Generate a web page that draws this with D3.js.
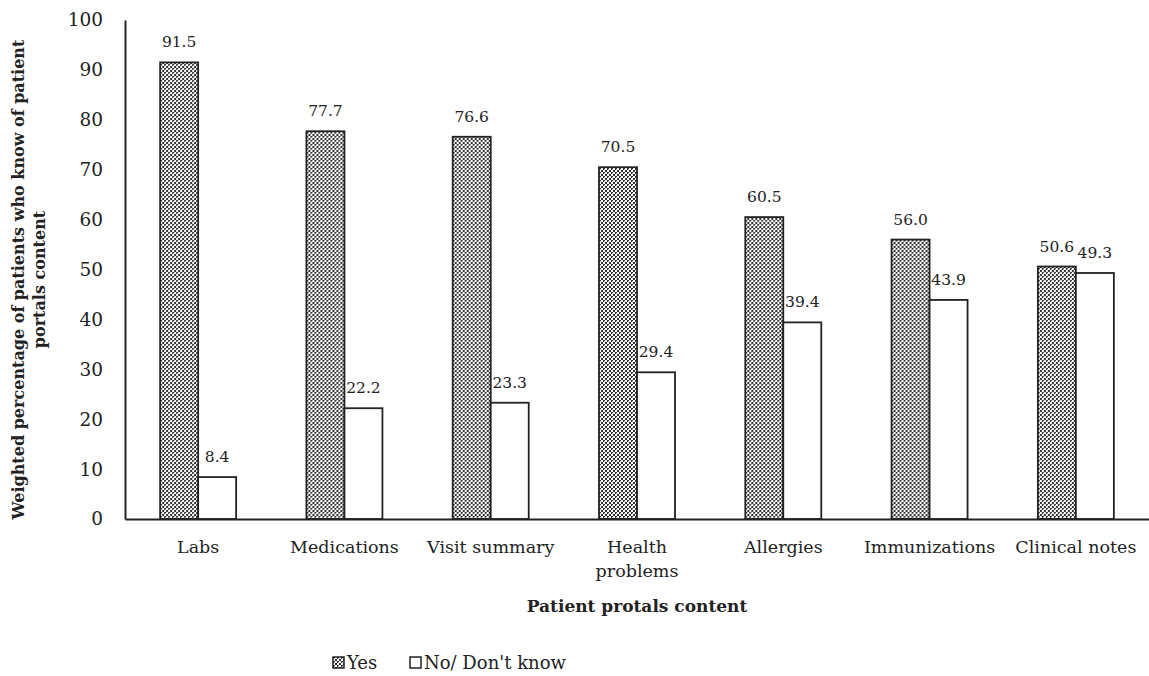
<!DOCTYPE html>
<html>
<head>
<meta charset="utf-8">
<script src="https://cdn.jsdelivr.net/npm/d3@7"></script>
<style>
  body { margin: 0; background: #fff; }
  text { font-family: "DejaVu Serif", serif; fill: #222; }
</style>
</head>
<body>
<div id="chart"></div>
<script>
// Data
const categories = ['Labs', 'Medications', 'Visit summary', 'Health problems', 'Allergies', 'Immunizations', 'Clinical notes'];
const yesValues = [91.5, 77.7, 76.6, 70.5, 60.5, 56.0, 50.6];
const noValues = [8.4, 22.2, 23.3, 29.4, 39.4, 43.9, 49.3];
const seriesNames = ['Yes', "No/ Don't know"];
const yTicks = [0, 10, 20, 30, 40, 50, 60, 70, 80, 90, 100];

const width = 1149;
const height = 676;
const margin = { top: 20, right: 0, bottom: 157, left: 125 };

const svg = d3.select('#chart')
  .append('svg')
  .attr('width', width)
  .attr('height', height);

// dotted fill like the excel pattern
const defs = svg.append('defs');
const pat = defs.append('pattern')
  .attr('id', 'dots')
  .attr('patternUnits', 'userSpaceOnUse')
  .attr('width', 4)
  .attr('height', 4);
pat.append('rect').attr('width', 4).attr('height', 4).attr('fill', '#fff');
pat.append('rect').attr('x', 0).attr('y', 0).attr('width', 2).attr('height', 2).attr('fill', '#333');
pat.append('rect').attr('x', 2).attr('y', 2).attr('width', 2).attr('height', 2).attr('fill', '#333');
pat.append('rect').attr('x', 1).attr('y', 1).attr('width', 1).attr('height', 1).attr('fill', '#bbb');

const x = d3.scaleBand()
  .domain(categories)
  .range([margin.left, width - margin.right]);

const inner = d3.scaleBand()
  .domain([0, 1])
  .range([0, 76])
  .padding(0);

const y = d3.scaleLinear()
  .domain([0, 100])
  .range([height - margin.bottom, margin.top]);

const rows = categories.map((c, i) => ({ cat: c, vals: [yesValues[i], noValues[i]] }));

// Bars
const groups = svg.append('g')
  .selectAll('g')
  .data(rows)
  .enter().append('g')
  .attr('transform', d => `translate(${x(d.cat) + x.bandwidth() / 2 - 38},0)`);

groups.selectAll('rect')
  .data(d => d.vals.map((v, k) => ({ v, k })))
  .enter().append('rect')
  .attr('x', d => inner(d.k))
  .attr('y', d => y(d.v))
  .attr('width', inner.bandwidth())
  .attr('height', d => y(0) - y(d.v))
  .attr('fill', d => d.k === 0 ? 'url(#dots)' : '#fff')
  .attr('stroke', '#222')
  .attr('stroke-width', 1.8);

// Value labels
groups.selectAll('text')
  .data(d => d.vals.map((v, k) => ({ v, k })))
  .enter().append('text')
  .attr('x', d => inner(d.k) + inner.bandwidth() / 2)
  .attr('y', d => y(d.v) - 15)
  .attr('text-anchor', 'middle')
  .attr('font-size', 15.5)
  .text(d => d.v.toFixed(1));

// Y axis
const yAxis = svg.append('g')
  .attr('transform', `translate(${margin.left},0)`)
  .call(d3.axisLeft(y).tickValues(yTicks).tickSize(0).tickPadding(22));
yAxis.select('.domain').attr('stroke', '#222').attr('stroke-width', 2);
yAxis.selectAll('text').attr('font-size', 18.5).attr('font-family', '"DejaVu Serif", serif').attr('fill', '#222');

// X axis
const xAxis = svg.append('g')
  .attr('transform', `translate(0,${y(0)})`)
  .call(d3.axisBottom(x).tickSize(0).tickPadding(22));
xAxis.select('.domain').attr('stroke', '#222').attr('stroke-width', 2);
xAxis.selectAll('text')
  .attr('font-size', 17.5)
  .attr('font-family', '"DejaVu Serif", serif')
  .attr('fill', '#222')
  .each(function(d) {
    if (d === 'Health problems') {
      const t = d3.select(this);
      t.text(null);
      t.append('tspan').attr('x', 0).text('Health');
      t.append('tspan').attr('x', 0).attr('dy', '1.35em').text('problems');
    }
  });

// Axis titles
svg.append('text')
  .attr('x', x.range()[0] + (x.range()[1] - x.range()[0]) / 2)
  .attr('y', 612)
  .attr('text-anchor', 'middle')
  .attr('font-size', 17)
  .attr('font-weight', 'bold')
  .text('Patient protals content');

const yTitle = svg.append('text')
  .attr('transform', `translate(24,${(y(0) + y(100)) / 2 + 10}) rotate(-90)`)
  .attr('text-anchor', 'middle')
  .attr('font-size', 16)
  .attr('font-weight', 'bold');
yTitle.append('tspan').attr('x', 0).attr('y', 0).text('Weighted percentage of patients who know of patient');
yTitle.append('tspan').attr('x', 0).attr('y', 21).text('portals content');

// Legend
const legend = svg.append('g')
  .attr('transform', 'translate(333,657)');
const items = legend.selectAll('g')
  .data(seriesNames)
  .enter().append('g')
  .attr('transform', (d, i) => `translate(${i * 77},0)`);
items.append('rect')
  .attr('width', 11)
  .attr('height', 11)
  .attr('fill', (d, i) => i === 0 ? 'url(#dots)' : '#fff')
  .attr('stroke', '#222')
  .attr('stroke-width', 1.5);
items.append('text')
  .attr('x', 14)
  .attr('y', 12)
  .attr('font-size', 18)
  .text(d => d);
</script>
</body>
</html>
